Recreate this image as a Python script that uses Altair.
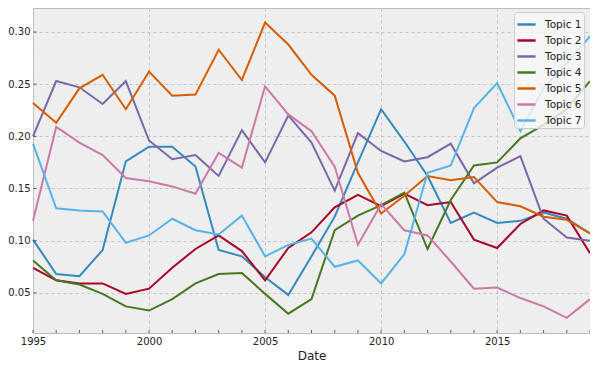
import altair as alt
import pandas as pd

years = list(range(1995, 2020))
ytick_values = [0.05, 0.10, 0.15, 0.20, 0.25, 0.30]
topics = ["Topic 1", "Topic 2", "Topic 3", "Topic 4", "Topic 5", "Topic 6", "Topic 7"]
colors = ["#348ABD", "#A60628", "#7A68A6", "#467821", "#D55E00", "#CC79A7", "#56B4E9"]

topic1 = [0.101, 0.068, 0.066, 0.091, 0.176, 0.190, 0.190, 0.171, 0.091, 0.085, 0.065, 0.048, 0.085,
          0.123, 0.175, 0.226, 0.195, 0.162, 0.117, 0.127, 0.117, 0.119, 0.127, 0.121, 0.107]
topic2 = [0.074, 0.062, 0.059, 0.059, 0.049, 0.054, 0.074, 0.092, 0.105, 0.090, 0.062, 0.093, 0.108,
          0.132, 0.144, 0.133, 0.145, 0.134, 0.137, 0.101, 0.093, 0.116, 0.129, 0.124, 0.088]
topic3 = [0.200, 0.253, 0.247, 0.231, 0.253, 0.196, 0.178, 0.182, 0.162, 0.206, 0.175, 0.220, 0.194,
          0.148, 0.203, 0.186, 0.176, 0.180, 0.193, 0.155, 0.170, 0.181, 0.121, 0.103, 0.100]
topic4 = [0.081, 0.062, 0.058, 0.049, 0.037, 0.033, 0.044, 0.059, 0.068, 0.069, 0.049, 0.030, 0.044,
          0.110, 0.124, 0.134, 0.146, 0.092, 0.139, 0.172, 0.175, 0.198, 0.211, 0.226, 0.253]
topic5 = [0.232, 0.213, 0.246, 0.259, 0.226, 0.262, 0.239, 0.240, 0.283, 0.254, 0.309, 0.288, 0.259,
          0.239, 0.165, 0.126, 0.143, 0.162, 0.158, 0.161, 0.137, 0.133, 0.123, 0.120, 0.107]
topic6 = [0.119, 0.209, 0.194, 0.182, 0.160, 0.157, 0.152, 0.145, 0.184, 0.170, 0.248, 0.221, 0.205,
          0.171, 0.096, 0.135, 0.110, 0.105, 0.080, 0.054, 0.055, 0.045, 0.037, 0.026, 0.044]
topic7 = [0.193, 0.131, 0.129, 0.128, 0.098, 0.105, 0.121, 0.110, 0.106, 0.124, 0.085, 0.096, 0.102,
          0.075, 0.081, 0.059, 0.087, 0.165, 0.172, 0.227, 0.251, 0.205, 0.246, 0.270, 0.296]

series = [topic1, topic2, topic3, topic4, topic5, topic6, topic7]
rows = []
for name, vals in zip(topics, series):
    for yr, v in zip(years, vals):
        rows.append({"Date": yr, "value": v, "topic": name})
df = pd.DataFrame(rows)

xscale = alt.Scale(domain=[1995, 2019], nice=False, zero=False)
yscale = alt.Scale(domain=[0.0115, 0.323], nice=False, zero=False)

x_axis = alt.Axis(values=years, format="d", tickSize=0, labelFlush=False, labelOverlap=False,
                  labelExpr="datum.value % 5 === 0 ? datum.label : ''",
                  gridColor={"condition": {"test": "datum.value % 5 === 0", "value": "#c4c4c4"}, "value": "transparent"},
                  gridDash=[3, 3], labelPadding=3, titlePadding=4)
y_axis = alt.Axis(values=ytick_values, format=".2f", labelOverlap=False,
                  gridColor="#c4c4c4", gridDash=[3, 3], tickSize=0, labelPadding=3)

lines = alt.Chart(df).mark_line(strokeWidth=2).encode(
    x=alt.X("Date:Q", title="Date", scale=xscale, axis=x_axis),
    y=alt.Y("value:Q", title=None, scale=yscale, axis=y_axis),
    color=alt.Color("topic:N", title=None,
                    scale=alt.Scale(domain=topics, range=colors),
                    legend=alt.Legend(orient="none", legendX=481, legendY=4,
                                      symbolType="stroke", symbolSize=330, symbolStrokeWidth=2.5,
                                      fillColor="rgba(248,248,248,0.8)", strokeColor="#cccccc",
                                      cornerRadius=3, padding=2, rowPadding=0, labelOffset=8,
                                      labelFontSize=10.5, labelFont="DejaVu Sans", labelColor="#222222")),
)

xticks = alt.Chart(pd.DataFrame({"Date": years})).mark_tick(
    color="#222222", thickness=1, size=3, orient="vertical"
).encode(x=alt.X("Date:Q", title="Date", scale=xscale, axis=x_axis), y=alt.value(323.5))

yticks = alt.Chart(pd.DataFrame({"value": ytick_values})).mark_tick(
    color="#222222", thickness=1, size=3, orient="horizontal"
).encode(y=alt.Y("value:Q", title=None, scale=yscale, axis=y_axis), x=alt.value(2))

chart = alt.layer(lines, xticks, yticks).properties(
    width=557, height=325,
    autosize=alt.AutoSizeParams(type="none"),
    padding={"left": 25, "top": 0, "right": 0, "bottom": 38},
).configure_view(
    fill="#EEEEEE", stroke="#bcbcbc", strokeWidth=1
).configure_axis(
    domain=False, labelFont="DejaVu Sans", labelFontSize=10, labelColor="#222222",
    titleFont="DejaVu Sans", titleFontSize=12, titleFontWeight="normal", titleColor="#222222"
)

chart.save("out.html", embed_options={"renderer": "svg", "actions": False})
